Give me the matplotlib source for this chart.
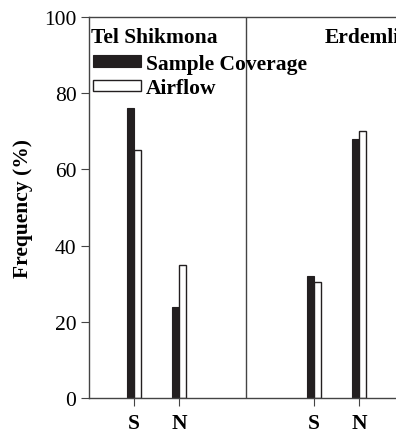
import numpy as np
import matplotlib.pyplot as plt

plt.rcParams['font.family'] = ['Liberation Serif', 'DejaVu Serif']

# Values
sites = ["Tel Shikmona", "Erdemli"]
directions = ["S", "N"]
sample_coverage = [76, 24, 32, 68]
airflow = [65, 35, 30.5, 70]

# S, N for the first site, divider, then S, N for the second
pos = np.array([1, 2, 5, 6])
divider = 3.5
w = 0.165
fs = 15.5

fig = plt.figure(figsize=(3.96, 4.35), dpi=100)
ax = fig.add_axes([89 / 396, 36 / 435, 315 / 396, 381 / 435])

ax.bar(pos - w / 2, sample_coverage, width=w, color='#231f20', edgecolor='#231f20',
       linewidth=0.8, label="Sample Coverage")
ax.bar(pos + w / 2, airflow, width=w, color='white', edgecolor='#231f20',
       linewidth=1.0, label="Airflow")

ax.axvline(divider, color='#444444', linewidth=1.0)

ax.set_xlim(0, 7)
ax.set_ylim(0, 100)
ax.set_xticks(pos)
ax.set_xticklabels(directions * 2, fontweight='bold', fontsize=fs)
ax.set_yticks([0, 20, 40, 60, 80, 100])
ax.tick_params(axis='y', labelsize=fs, length=6, width=0.8, color='#444444', pad=3)
ax.tick_params(axis='x', length=6, width=0.8, color='#444444', pad=5)
ax.set_ylabel("Frequency (%)", fontweight='bold', fontsize=fs, labelpad=8)

for s in ax.spines.values():
    s.set_color('#444444')
    s.set_linewidth(1.0)
ax.spines['right'].set_visible(False)

ax.text(0.04, 97.5, sites[0], fontweight='bold', fontsize=fs, va='top', ha='left')
ax.text(5.24, 97.5, sites[1], fontweight='bold', fontsize=fs, va='top', ha='left')

ax.legend(loc='upper left', bbox_to_anchor=(0.0, 0.915), frameon=False,
          prop={'weight': 'bold', 'size': fs}, handlelength=2.2, handleheight=0.45,
          handletextpad=0.25, labelspacing=0.2, borderaxespad=0.1, borderpad=0.1)

fig.savefig("out.png", dpi=100)
